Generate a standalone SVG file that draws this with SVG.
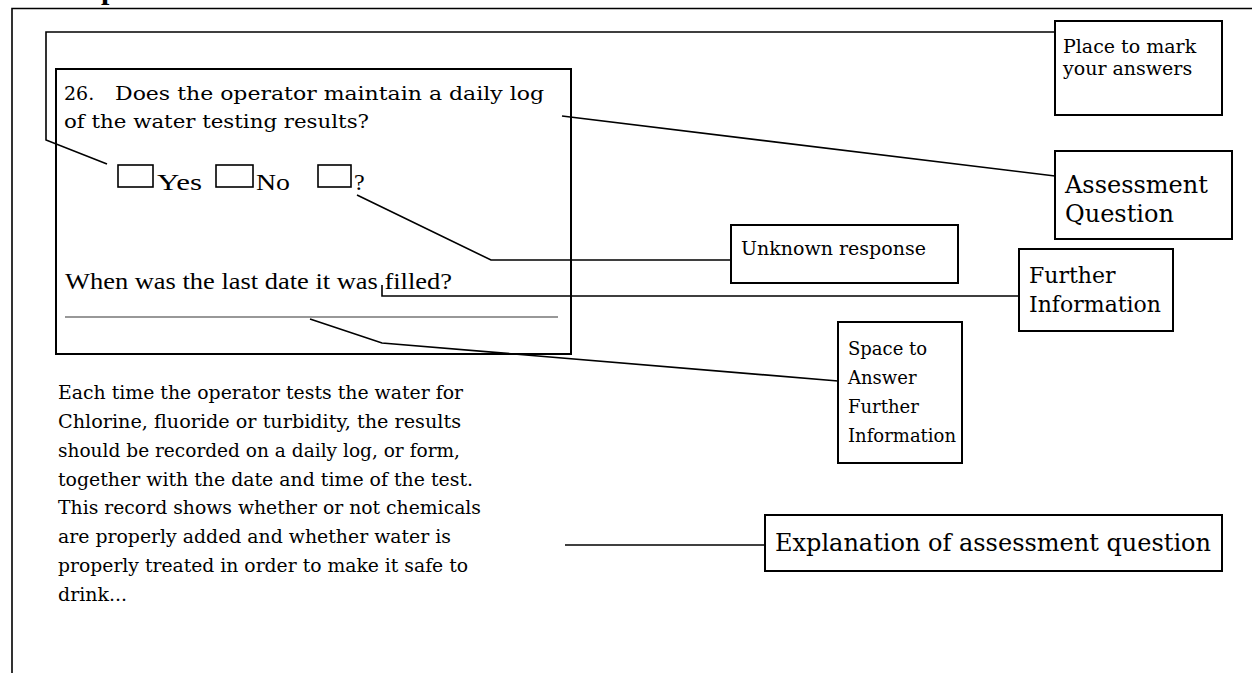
<svg xmlns="http://www.w3.org/2000/svg" width="1252" height="673" viewBox="0 0 1252 673">
<style>
.box{fill:none;stroke:#000;stroke-width:2}
.cb{fill:none;stroke:#000;stroke-width:1.6}
.ln{fill:none;stroke:#000;stroke-width:1.6}
.cs{font-family:"DejaVu Serif","Liberation Serif",serif;fill:#000}
.tm{font-family:"Liberation Serif","Times New Roman",serif;fill:#000}
</style>
<rect width="1252" height="673" fill="#fff"/>
<text class="tm" x="101" y="-1" font-size="30" font-weight="bold">p</text>
<path class="ln" d="M12,673 V8.5 H1252" stroke-width="2"/>
<g id="connectors">
<polyline class="ln" points="1055,32 46,32 46,140 107,164"/>
<line class="ln" x1="562" y1="116" x2="1055" y2="176"/>
<polyline class="ln" points="357,195 491,260 731,260"/>
<polyline class="ln" points="382,285 382,296 1019,296"/>
<polyline class="ln" points="310,319 382,343 838,381"/>
<line class="ln" x1="565" y1="545" x2="765" y2="545"/>
</g>
<g id="question">
<rect class="box" x="56" y="69" width="515" height="285"/>
<text class="cs" x="64" y="100" font-size="19">26.</text>
<text class="cs" x="115" y="100" font-size="19" textLength="429" lengthAdjust="spacingAndGlyphs">Does the operator maintain a daily log</text>
<text class="cs" x="64" y="128" font-size="19" textLength="305" lengthAdjust="spacingAndGlyphs">of the water testing results?</text>
<rect class="cb" x="118" y="165" width="35" height="22"/>
<text class="tm" x="157" y="190" font-size="24" textLength="45" lengthAdjust="spacingAndGlyphs">Yes</text>
<rect class="cb" x="216" y="165" width="37" height="22"/>
<text class="tm" x="256" y="190" font-size="24" textLength="34" lengthAdjust="spacingAndGlyphs">No</text>
<rect class="cb" x="318" y="165" width="33" height="22"/>
<text class="tm" x="354" y="190" font-size="24">?</text>
<text class="tm" x="65" y="289" font-size="24" textLength="387" lengthAdjust="spacingAndGlyphs">When was the last date it was filled?</text>
<line x1="65" y1="317" x2="558" y2="317" stroke="#333" stroke-width="1.2"/>
</g>
<g id="explanation-text">
<text class="cs" font-size="19" x="58" y="399" textLength="405" lengthAdjust="spacingAndGlyphs">Each time the operator tests the water for</text>
<text class="cs" font-size="19" x="58" y="428" textLength="403" lengthAdjust="spacingAndGlyphs">Chlorine, fluoride or turbidity, the results</text>
<text class="cs" font-size="19" x="58" y="457" textLength="402" lengthAdjust="spacingAndGlyphs">should be recorded on a daily log, or form,</text>
<text class="cs" font-size="19" x="58" y="486" textLength="415" lengthAdjust="spacingAndGlyphs">together with the date and time of the test.</text>
<text class="cs" font-size="19" x="58" y="514" textLength="423" lengthAdjust="spacingAndGlyphs">This record shows whether or not chemicals</text>
<text class="cs" font-size="19" x="58" y="543" textLength="393" lengthAdjust="spacingAndGlyphs">are properly added and whether water is</text>
<text class="cs" font-size="19" x="58" y="572" textLength="410" lengthAdjust="spacingAndGlyphs">properly treated in order to make it safe to</text>
<text class="cs" font-size="19" x="58" y="601" textLength="69" lengthAdjust="spacingAndGlyphs">drink...</text>
</g>
<g id="place-to-mark">
<rect class="box" x="1055" y="21" width="167" height="94"/>
<text class="cs" x="1063" y="53" font-size="19">Place to mark</text>
<text class="cs" x="1063" y="75" font-size="19">your answers</text>
</g>
<g id="assessment-question">
<rect class="box" x="1055" y="151" width="177" height="88"/>
<text class="cs" x="1065" y="193" font-size="24">Assessment</text>
<text class="cs" x="1065" y="222" font-size="24">Question</text>
</g>
<g id="unknown-response">
<rect class="box" x="731" y="225" width="227" height="58"/>
<text class="cs" x="741" y="255" font-size="19">Unknown response</text>
</g>
<g id="further-information">
<rect class="box" x="1019" y="249" width="154" height="82"/>
<text class="cs" x="1029" y="283" font-size="22">Further</text>
<text class="cs" x="1029" y="312" font-size="22">Information</text>
</g>
<g id="space-to-answer">
<rect class="box" x="838" y="322" width="124" height="141"/>
<text class="cs" x="848" y="355" font-size="18">Space to</text>
<text class="cs" x="848" y="384" font-size="18">Answer</text>
<text class="cs" x="848" y="413" font-size="18">Further</text>
<text class="cs" x="848" y="442" font-size="18">Information</text>
</g>
<g id="explanation">
<rect class="box" x="765" y="515" width="457" height="56"/>
<text class="cs" x="775" y="551" font-size="24">Explanation of assessment question</text>
</g>
</svg>
